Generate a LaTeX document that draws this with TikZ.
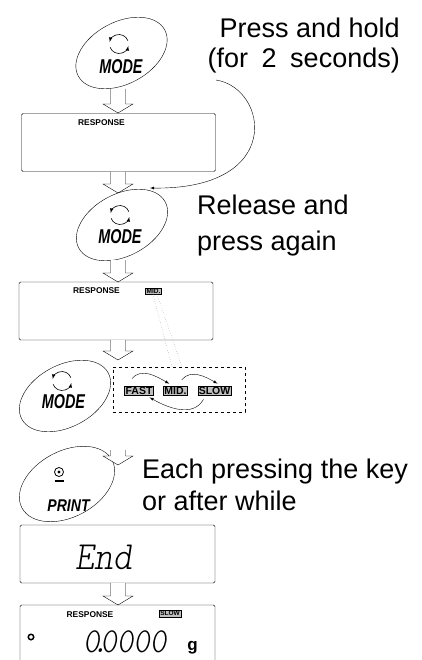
\documentclass[tikz,border=0pt]{standalone}
\usepackage{fontspec}
\setmainfont{Liberation Sans}
\usetikzlibrary{shapes.geometric, positioning, arrows, calc}
\tikzset{
	key/.style={draw, ellipse, rotate=28, minimum width=98pt, minimum height=62pt}, % the oval key outline
	keyname/.style={font=\bfseries\itshape\fontsize{20}{20}\selectfont, inner sep=0pt, xscale=.72}, % MODE / PRINT
	display/.style={draw, rounded corners=1.5pt, minimum width=194pt, minimum height=58pt}, % the balance display
	resp/.style={font=\bfseries\fontsize{8.4}{8.4}\selectfont, inner sep=0pt},
	indic/.style={draw, fill=gray!50, inner sep=1pt, font=\bfseries\fontsize{#1}{#1}\selectfont}, % lit indicator
	note/.style={font=\fontsize{27}{30}\selectfont, inner sep=0pt}, % the big side texts
	seg/.style={font=\fontfamily{lmtt}\fontseries{l}\fontshape{sl}\fontsize{#1}{#1}\selectfont, inner sep=0pt},
	cyc/.style={-latex, thin},
	pics/hollow/.style={code={
		\draw[fill=white] (-7.5,0) -- (-7.5,{-#1+9}) -- (-15,{-#1+9}) -- (0,-#1) -- (15,{-#1+9}) -- (7.5,{-#1+9}) -- (7.5,0);
	}},
	pics/cycleicon/.style={code={
		\draw[-latex, semithick] (20:9.5) arc[start angle=20, end angle=168, radius=9.5];
		\draw[-latex, semithick] (200:9.5) arc[start angle=200, end angle=348, radius=9.5];
	}},
	pics/printicon/.style={code={
		\draw[thick] (0,0) circle (4.5);
		\fill (0,0) circle (1.6);
		\draw[line width=1.2pt] (-4.5,-9) -- (4.5,-9);
	}},
}

\begin{document}
\begin{tikzpicture}[x=1pt, y=1pt]
		\useasboundingbox (0,0) rectangle (422,-660);
		\clip (0,0) rectangle (422,-660);

		% first press: hold MODE
		\node[key] (mode_key1) at (121.5,-53) {};
		\pic at (119,-44) {cycleicon};
		\node[keyname] (mode_name1) at (121,-67) {MODE};
		\pic at (118,-89) {hollow=24};
		\node[display] (disp_resp) at (118.5,-142.5) {};
		\node[resp] (resp1) at (101.5,-122.5) {RESPONSE};
		\pic at (118,-172) {hollow=21};

		\node[note, align=right, anchor=north east] (hold_text) at (400,-17.7) {Press and hold\\(for\hspace{0.5em}2\hspace{0.5em}seconds)};
		\coordinate (hold_start) at (216,-80);
		\coordinate (hold_end) at (150,-188);
		\draw[-latex] (hold_start) .. controls (268,-88) and (285,-190) .. (hold_end);

		% second press: MODE changes the speed
		\node[key] (mode_key2) at (122,-225) {};
		\pic at (120,-215) {cycleicon};
		\node[keyname] (mode_name2) at (120,-236.5) {MODE};
		\node[note, align=left, anchor=north west] (release_text) at (197,-194.7) {Release and\\[6pt]press again};
		\pic at (118,-260) {hollow=22};
		\node[display] (disp_mid) at (116,-311) {};
		\node[resp] (resp2) at (96.5,-291) {RESPONSE};
		\node[indic=6.5] (mid_ind) at (153.5,-291) {MID.};
		\pic at (118,-340) {hollow=20};

		\node[key] (mode_key3) at (65,-396) {};
		\pic at (62,-381) {cycleicon};
		\node[keyname] (mode_name3) at (63.5,-402) {MODE};
		\node[draw, dashed, minimum width=132pt, minimum height=45pt] (speed_box) at (179,-389.5) {};
		\node[indic=10.5] (fast_sel) at (139,-390.5) {FAST};
		\node[indic=10.5] (mid_sel) at (175.5,-390.5) {MID.};
		\node[indic=10.5] (slow_sel) at (214.5,-390.5) {SLOW};
		\draw[cyc] ($(fast_sel.north)+(-7,7)$) to[out=50, in=150] ($(mid_sel.north west)+(6,2)$);
		\draw[cyc] ($(mid_sel.north east)+(-6,6)$) to[out=50, in=150] ($(slow_sel.north)+(3,2)$);
		\draw[cyc] ($(slow_sel.south)+(-11,-4)$) to[out=-120, in=-30] ($(fast_sel.south east)+(-4,-2)$);
		\draw[dotted, gray] ($(mid_ind.south)+(-0.5,0)$) -- ($(speed_box.north)+(-7,0)$);
		\draw[dotted, gray] ($(mid_ind.south)+(3.5,0)$) -- ($(speed_box.north)+(3,0)$);

		% PRINT stores the setting
		\node[key, minimum width=102pt, minimum height=66pt] (print_key) at (67,-484) {};
		\pic at (59,-472) {printicon};
		\node[keyname, font=\bfseries\itshape\fontsize{17}{17}\selectfont, xscale=1.15] (print_name) at (68.5,-506) {PRINT};
		\pic at (118,-450) {hollow=15};
		\node[note, align=left, anchor=north west] (each_text) at (142,-458.7) {Each pressing the key\\[2pt]or after while};

		\node[display, minimum width=195pt] (disp_end) at (117.5,-554) {};
		\node[seg=40, xscale=.9] (end_text) at (104,-557) {End};
		\pic at (118,-583) {hollow=22};
		\node[display, minimum width=195pt, minimum height=80pt] (disp_zero) at (117.5,-645) {};
		\node[resp] (resp3) at (90,-615) {RESPONSE};
		\node[indic=6.5] (slow_ind) at (170,-613.5) {SLOW};
		\node[draw, circle, line width=1.5pt, minimum size=5.5pt, inner sep=0pt] (stable_mark) at (31,-637) {};
		\node[seg=35, xscale=.9, anchor=base] (zero_text) at (125,-652) {0\kern-.25em.\kern-.25em0000};
		\node[font=\bfseries\fontsize{17}{17}\selectfont, inner sep=0pt] (unit_g) at (192.5,-648) {g};
	\end{tikzpicture}
\end{document}
